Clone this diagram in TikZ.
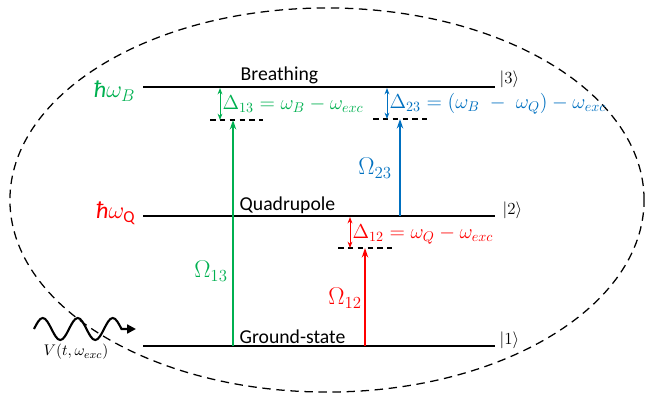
\documentclass[tikz,border=0pt]{standalone}
\usepackage{amsmath}
\usepackage{fontspec}
\setmainfont{Carlito}
\usetikzlibrary{shapes.geometric, arrows.meta, positioning, calc}
\definecolor{cGreen}{RGB}{0,176,80}
\definecolor{cRed}{RGB}{255,0,0}
\definecolor{cBlue}{RGB}{0,112,192}
\tikzset{
    level/.style   ={line width=2pt, black},
    virtual/.style ={line width=0.8pt, dash pattern=on 4pt off 3pt},
    pump/.style    ={-{Stealth[length=2.4mm, width=1.6mm]}, line width=1.1pt},
    detune/.style  ={{Stealth[length=1.6mm, width=1.2mm]}-{Stealth[length=1.6mm, width=1.2mm]}, line width=0.7pt},
    lbl/.style     ={font=\fontsize{14}{16}\selectfont, inner sep=1pt},
    big/.style     ={font=\fontsize{17}{19}\selectfont, inner sep=1pt},
    ket/.style     ={font=\fontsize{13}{15}\selectfont, inner sep=1pt, anchor=west},
}

\begin{document}
\begin{tikzpicture}[x=0.025cm, y=-0.025cm]
        \useasboundingbox (0,0) rectangle (645,397);
        % envelope
        \node[draw, ellipse, line width=0.9pt, dash pattern=on 6pt off 4pt,
              minimum width=15.85cm, minimum height=9.6cm, inner sep=0pt] (env) at (327,200) {};
        % levels
        \coordinate (L3w) at (143,87);  \coordinate (L3e) at (495,87);
        \coordinate (L2w) at (143,216); \coordinate (L2e) at (495,216);
        \coordinate (L1w) at (143,346); \coordinate (L1e) at (495,346);
        \draw[level] (L3w) -- (L3e);
        \draw[level] (L2w) -- (L2e);
        \draw[level] (L1w) -- (L1e);
        \node[lbl, anchor=south west] (n3) at (239,86) {Breathing};
        \node[lbl, anchor=south west] (n2) at (238,215) {Quadrupole};
        \node[lbl, anchor=south west] (n1) at (238,345) {Ground-state};
        \node[ket] (k3) at (498,79) {$|3\rangle$};
        \node[ket] (k2) at (501,210) {$|2\rangle$};
        \node[ket] (k1) at (498,340) {$|1\rangle$};
        \node[big, text=cGreen, anchor=east] (eB) at (137,91) {\textit{ħ}$\omega_B$};
        \node[big, text=cRed, anchor=east] (eQ) at (137,213) {\textit{ħ}$\omega_{\text{Q}}$};
        % virtual levels
        \draw[virtual] (210,120) coordinate (V13w) -- (263,120) coordinate (V13e);
        \draw[virtual] (373,119) coordinate (V23w) -- (427,119) coordinate (V23e);
        \draw[virtual] (338,248) coordinate (V12w) -- (392,248) coordinate (V12e);
        % transitions
        \coordinate (g13) at (233,346); \coordinate (t13) at (233,120);
        \coordinate (g23) at (400,216); \coordinate (t23) at (400,119);
        \coordinate (g12) at (365,346); \coordinate (t12) at (365,248);
        \draw[pump, cGreen] (g13) -- (t13);
        \draw[pump, cBlue] (g23) -- (t23);
        \draw[pump, cRed] (g12) -- (t12);
        \node[big, text=cGreen] (o13) at (211,271) {$\Omega_{13}$};
        \node[big, text=cBlue] (o23) at (375,168) {$\Omega_{23}$};
        \node[big, text=cRed] (o12) at (345,298) {$\Omega_{12}$};
        % detunings
        \coordinate (d13a) at (220,88);  \coordinate (d13b) at (220,120);
        \coordinate (d23a) at (387,88);  \coordinate (d23b) at (387,119);
        \coordinate (d12a) at (350,217); \coordinate (d12b) at (350,248);
        \draw[detune, cGreen] (d13a) -- (d13b);
        \draw[detune, cBlue] (d23a) -- (d23b);
        \draw[detune, cRed] (d12a) -- (d12b);
        \node[lbl, text=cGreen, anchor=west] (D13) at (221,104) {$\Delta_{13} = \omega_B - \omega_{exc}$};
        \node[lbl, text=cBlue, anchor=west] (D23) at (388,104) {$\Delta_{23} = (\omega_B \;-\; \omega_Q) - \omega_{exc}$};
        \node[lbl, text=cRed, anchor=west] (D12) at (351,234) {$\Delta_{12} = \omega_Q - \omega_{exc}$};
        % drive
        \coordinate (w0) at (34,329); \coordinate (w1) at (136,329);
        \draw[line width=1.5pt, -{Triangle[length=2.2mm, width=2.2mm]}]
            (w0) sin (42.75,318) cos (51.5,329) sin (60.25,340) cos (69,329)
                 sin (77.75,318) cos (86.5,329) sin (95.25,340) cos (104,329)
                 sin (112.75,318) cos (121.5,329) -- (w1);
        \node[font=\fontsize{11}{13}\selectfont] (drv) at (76,352) {$V(t,\omega_{exc})$};
    \end{tikzpicture}
\end{document}
